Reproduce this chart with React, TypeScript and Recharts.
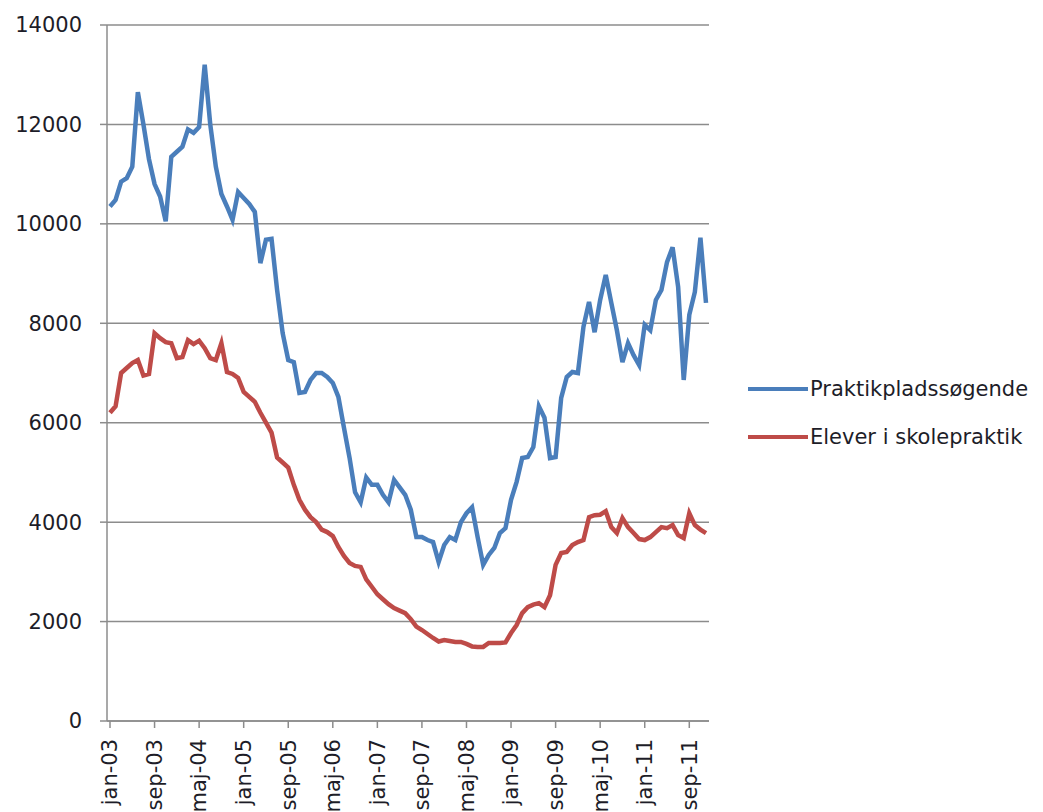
import { LineChart, Line, XAxis, YAxis, CartesianGrid, Legend } from "recharts";

// Danish month abbreviations, jan-03 .. dec-11
const monthNames = ["jan", "feb", "mar", "apr", "maj", "jun", "jul", "aug", "sep", "okt", "nov", "dec"];
const years = ["03", "04", "05", "06", "07", "08", "09", "10", "11"];
const months = years.flatMap((y) => monthNames.map((m) => `${m}-${y}`));

const praktikpladssogende = [
  10350, 10480, 10850, 10920, 11150, 12650, 12000, 11300, 10800, 10550, 10050, 11350,
  11450, 11550, 11900, 11830, 11950, 13200, 12000, 11150, 10600, 10350, 10080, 10640,
  10520, 10400, 10240, 9210, 9680, 9700, 8670, 7800, 7260, 7220, 6600, 6620,
  6860, 7000, 7000, 6920, 6800, 6520, 5900, 5300, 4600, 4400, 4900, 4750,
  4750, 4550, 4400, 4850, 4700, 4550, 4250, 3700, 3700, 3640, 3600, 3200,
  3540, 3700, 3640, 4000, 4180, 4300, 3700, 3140, 3340, 3480, 3780, 3880,
  4450, 4810, 5290, 5310, 5510, 6330, 6100, 5290, 5310, 6500, 6920, 7020,
  7000, 7930, 8430, 7820, 8470, 8970, 8410, 7860, 7220, 7600, 7360, 7160,
  7970, 7860, 8470, 8670, 9230, 9530, 8730, 6860, 8170, 8630, 9720, 8410,
];

const eleverISkolepraktik = [
  6200, 6330, 7000, 7100, 7200, 7260, 6950, 6980, 7800, 7700, 7620, 7600,
  7300, 7320, 7660, 7580, 7650, 7500, 7300, 7260, 7600, 7020, 6980, 6900,
  6620, 6520, 6420, 6200, 6000, 5800, 5300, 5200, 5100, 4750, 4450, 4250,
  4100, 4000, 3850, 3800, 3720, 3500, 3320, 3180, 3120, 3100, 2850, 2700,
  2550, 2450, 2350, 2270, 2220, 2170, 2050, 1900, 1830, 1750, 1670, 1600,
  1630, 1610, 1590, 1590, 1550, 1500, 1490, 1490, 1570, 1570, 1570, 1580,
  1770, 1930, 2170, 2290, 2340, 2370, 2290, 2530, 3140, 3380, 3400, 3540,
  3600, 3640, 4100, 4140, 4150, 4220, 3900, 3780, 4080, 3900, 3780, 3660,
  3640, 3700, 3800, 3900, 3880, 3940, 3740, 3680, 4180, 3940, 3850, 3780,
];

const yTicks = [0, 2000, 4000, 6000, 8000, 10000, 12000, 14000];

const seriesNames = ["Praktikpladssøgende", "Elever i skolepraktik"];
const seriesColors = ["#4a7ebb", "#be4b48"];

const data = months.map((month, i) => ({
  month,
  praktik: praktikpladssogende[i],
  elever: eleverISkolepraktik[i],
}));

const FONT = "'DejaVu Sans', sans-serif";
const TEXT = "#1d1d28";
const GRID = "#8c8c8c";

function MonthTick({ x, y, payload }: any) {
  return (
    <text
      x={x}
      y={y}
      transform={`rotate(-90, ${x}, ${y})`}
      textAnchor="end"
      dy="0.35em"
      fontSize={21}
      fontFamily={FONT}
      fill={TEXT}
    >
      {payload.value}
    </text>
  );
}

function renderLegend() {
  return (
    <svg width={298} height={100}>
      {seriesNames.map((name, i) => (
        <g key={name}>
          <line x1={3} x2={63} y1={19 + i * 48} y2={19 + i * 48} stroke={seriesColors[i]} strokeWidth={4} />
          <text x={65} y={19 + i * 48} dy="0.35em" fontSize={21} fontFamily={FONT} fill={TEXT}>
            {name}
          </text>
        </g>
      ))}
    </svg>
  );
}

export default function App() {
  return (
    <div style={{ position: "absolute", left: 0, top: 0, background: "#fff" }}>
      <LineChart
        width={1043}
        height={812}
        data={data}
        margin={{ top: 25, right: 334, bottom: 0, left: 0 }}
      >
        <CartesianGrid vertical={false} stroke={GRID} strokeWidth={1.5} />
        <XAxis
          dataKey="month"
          interval={7}
          height={91}
          padding={{ left: 3, right: 3 }}
          axisLine={{ stroke: GRID, strokeWidth: 1.5 }}
          tickLine={{ stroke: GRID, strokeWidth: 1.5 }}
          tickSize={7}
          tickMargin={11}
          tick={<MonthTick />}
        />
        <YAxis
          width={107}
          domain={[0, 14000]}
          ticks={yTicks}
          interval={0}
          axisLine={{ stroke: GRID, strokeWidth: 1.5 }}
          tickLine={{ stroke: GRID, strokeWidth: 1.5 }}
          tickSize={7}
          tickMargin={18}
          tick={{ fontSize: 21, fontFamily: FONT, fill: TEXT }}
        />
        <Legend
          layout="vertical"
          align="center"
          verticalAlign="middle"
          wrapperStyle={{ left: 745, top: 370, width: 298, height: 100 }}
          content={renderLegend}
        />
        <Line
          dataKey="praktik"
          name={seriesNames[0]}
          stroke={seriesColors[0]}
          strokeWidth={4.5}
          dot={false}
          type="linear"
          isAnimationActive={false}
        />
        <Line
          dataKey="elever"
          name={seriesNames[1]}
          stroke={seriesColors[1]}
          strokeWidth={4.5}
          dot={false}
          type="linear"
          isAnimationActive={false}
        />
      </LineChart>
    </div>
  );
}
